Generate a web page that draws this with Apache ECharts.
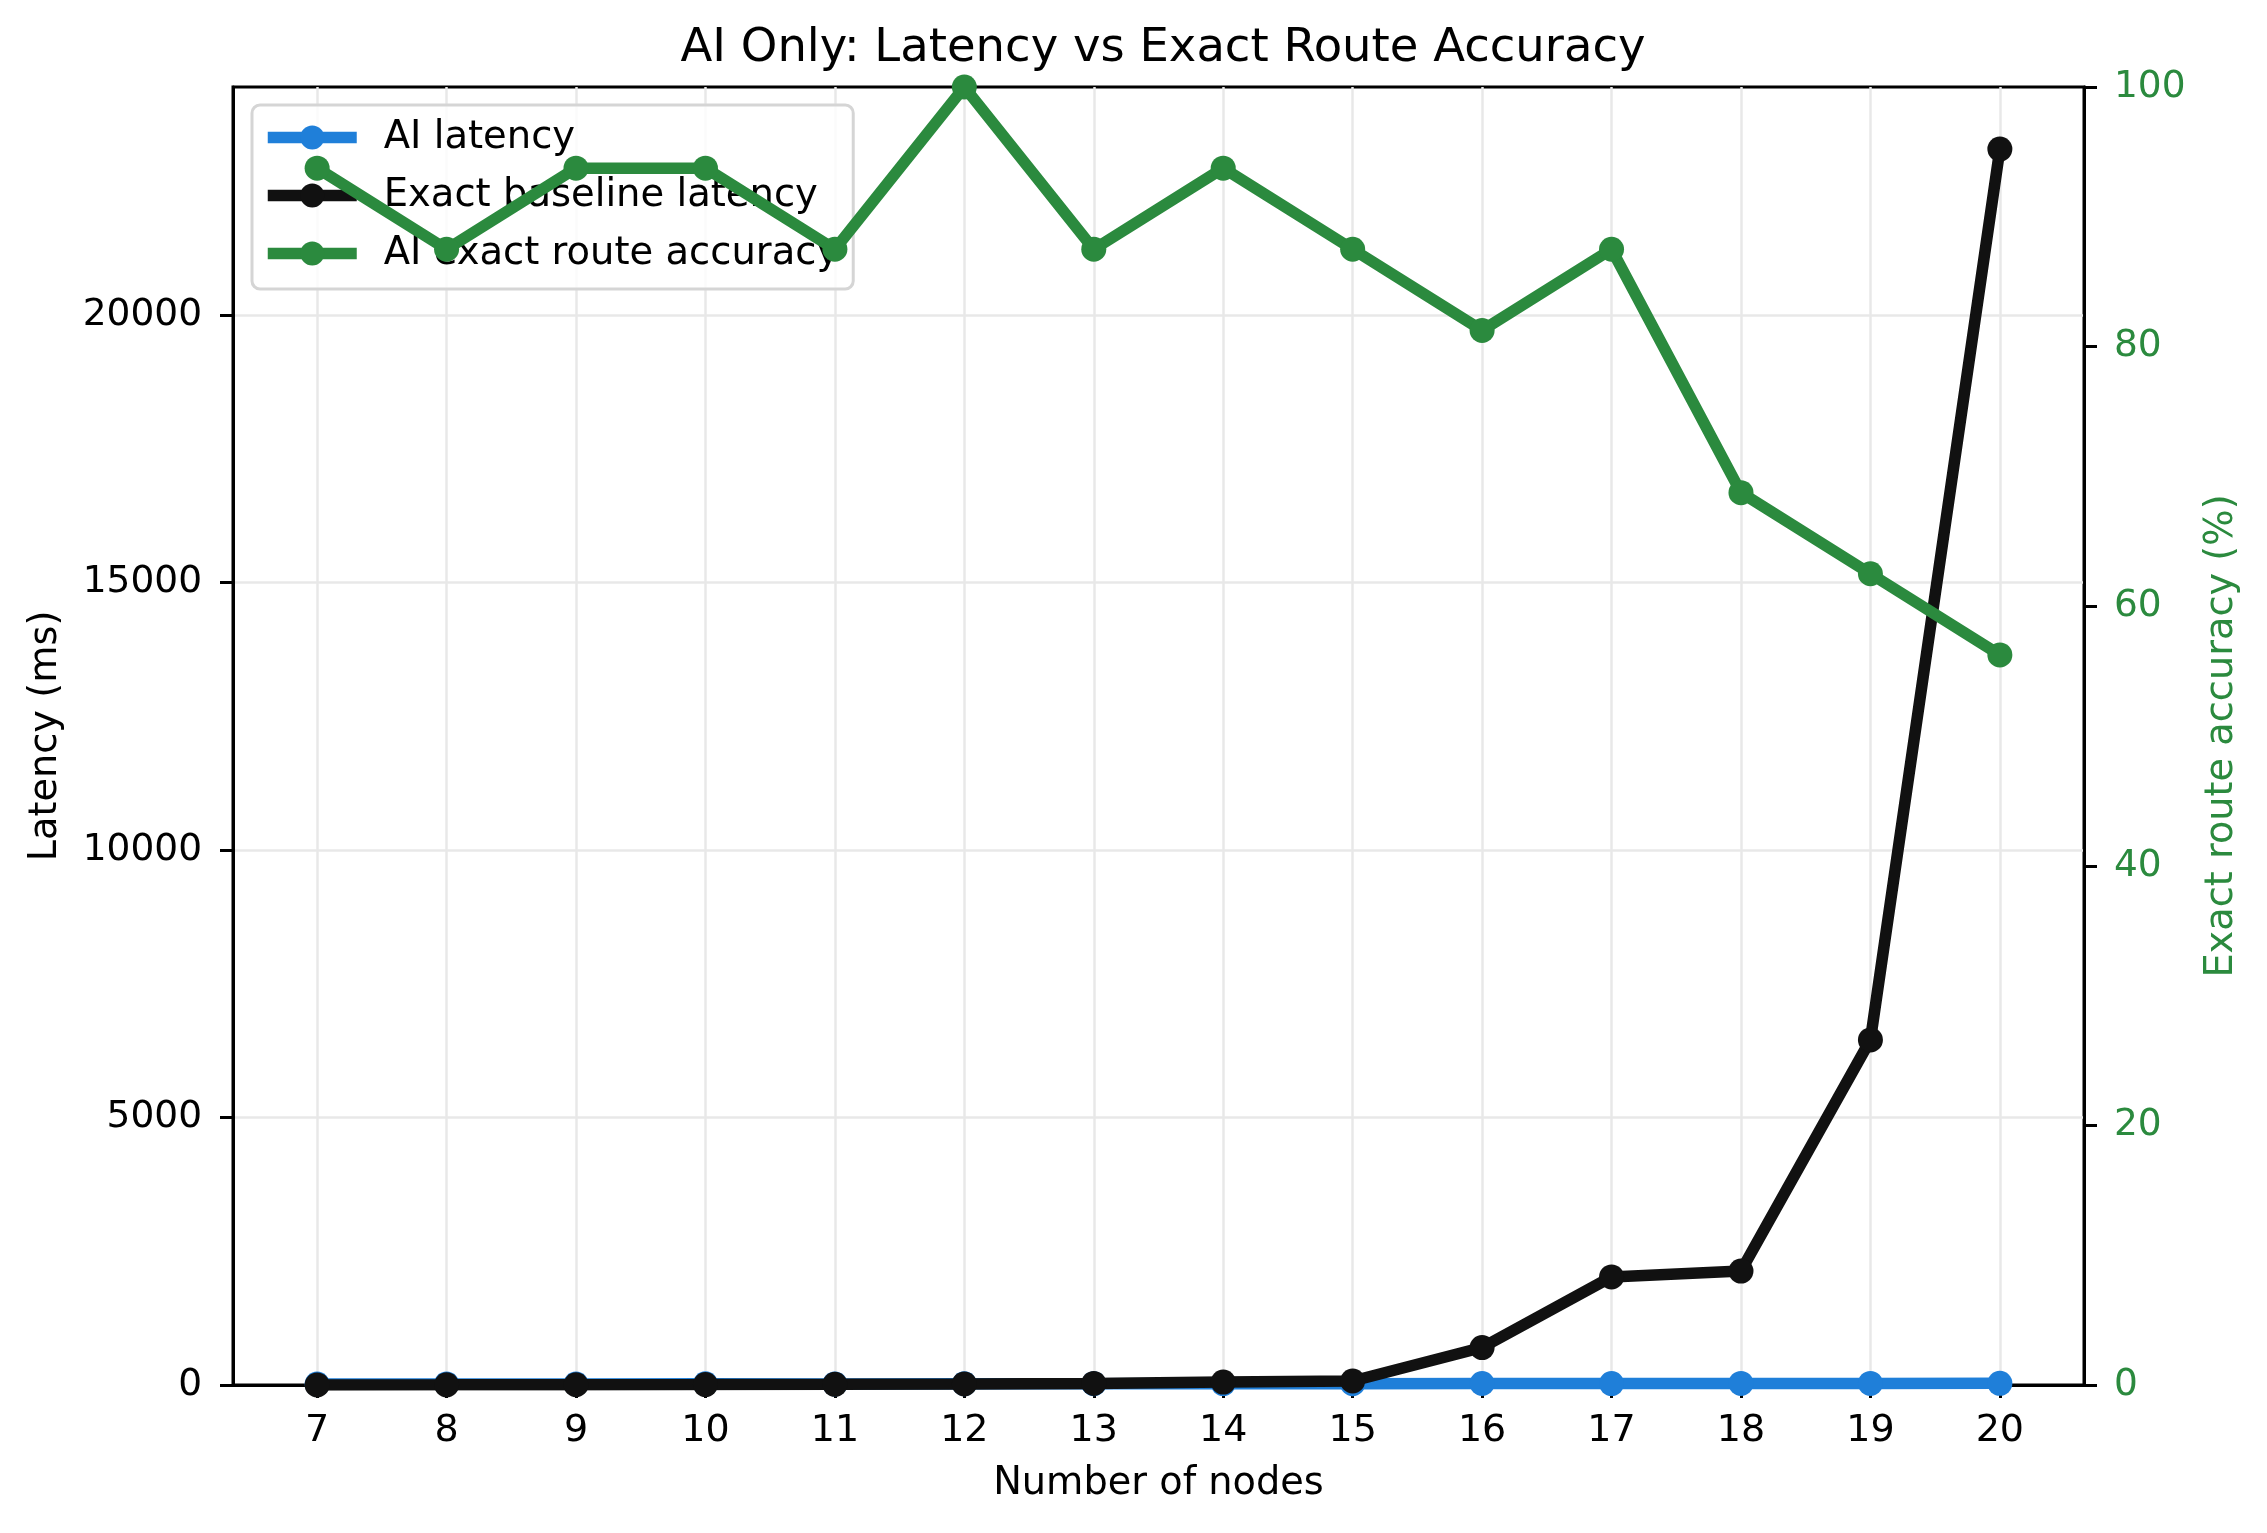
<!DOCTYPE html>
<html>
<head>
<meta charset="utf-8">
<script src="https://cdn.jsdelivr.net/npm/echarts@6/dist/echarts.min.js"></script>
<style>
html,body{margin:0;padding:0;background:#fff;}
#chart{width:2267px;height:1533px;}
</style>
</head>
<body>
<div id="chart"></div>
<script>
const nodes = [7, 8, 9, 10, 11, 12, 13, 14, 15, 16, 17, 18, 19, 20];
const aiLatency = [18, 20, 19, 22, 21, 24, 23, 26, 25, 28, 27, 30, 29, 31];
const exactLatency = [2, 3, 5, 8, 12, 20, 30, 55, 75, 700, 2020, 2130, 6450, 23100];
const accuracy = [93.75, 87.5, 93.75, 93.75, 87.5, 100, 87.5, 93.75, 87.5, 81.25, 87.5, 68.75, 62.5, 56.25];
const latencyTicks = [0, 5000, 10000, 15000, 20000];

const FONT = 'DejaVu Sans';
const GREEN = '#2b8a3e';
const LW = 11.5;
const MS = 25;
const pair = (ys) => nodes.map((x, i) => [x, ys[i]]);

const chart = echarts.init(document.getElementById('chart'), null, {renderer: 'canvas'});
chart.setOption({
  backgroundColor: '#ffffff',
  animation: false,
  textStyle: {fontFamily: FONT},
  title: {
    text: 'AI Only: Latency vs Exact Route Accuracy',
    left: 1158, top: 20, textAlign: 'center',
    textStyle: {fontFamily: FONT, fontSize: 46.5, fontWeight: 'normal', color: '#000'}
  },
  grid: {
    left: 233, right: 183, top: 87, bottom: 148,
    show: true, borderColor: '#000', borderWidth: 3, backgroundColor: 'transparent'
  },
  legend: {
    orient: 'vertical', left: 252, top: 105,
    padding: [13, 14, 16, 10],
    itemWidth: 89, itemHeight: 30, itemGap: 19,
    backgroundColor: 'rgba(255,255,255,0.8)',
    borderColor: '#d5d5d5', borderWidth: 3, borderRadius: 8,
    textStyle: {fontFamily: FONT, fontSize: 38.5, color: '#000', padding: [0, 0, 0, 22]},
    lineStyle: {width: LW},
    z: 4,
    data: ['AI latency', 'Exact baseline latency', 'AI exact route accuracy']
  },
  xAxis: {
    type: 'value', min: 6.35, max: 20.65,
    name: 'Number of nodes', nameLocation: 'middle', nameGap: 80,
    nameTextStyle: {fontFamily: FONT, fontSize: 38.3, color: '#000'},
    axisLine: {show: true, lineStyle: {color: '#000', width: 3}},
    axisTick: {show: true, length: 13, lineStyle: {color: '#000', width: 3}, customValues: nodes},
    axisLabel: {fontFamily: FONT, fontSize: 38, color: '#000', margin: 27, customValues: nodes},
    splitLine: {show: true, lineStyle: {color: '#e8e8e8', width: 2.5}}
  },
  yAxis: [
    {
      type: 'value', min: 0, max: 24260, position: 'left',
      name: 'Latency (ms)', nameLocation: 'middle', nameGap: 168, nameRotate: 90,
      nameTextStyle: {fontFamily: FONT, fontSize: 38.3, color: '#000'},
      axisLine: {show: true, lineStyle: {color: '#000', width: 3}},
      axisTick: {show: true, length: 13, lineStyle: {color: '#000', width: 3}, customValues: latencyTicks},
      axisLabel: {fontFamily: FONT, fontSize: 37.5, color: '#000', margin: 31, customValues: latencyTicks,
                  formatter: (v) => String(v)},
      splitLine: {show: true, lineStyle: {color: '#e8e8e8', width: 2.5}}
    },
    {
      type: 'value', min: 0, max: 100, interval: 20, position: 'right',
      name: 'Exact route accuracy (%)', nameLocation: 'middle', nameGap: 119, nameRotate: 90,
      nameTextStyle: {fontFamily: FONT, fontSize: 38.3, color: GREEN},
      axisLine: {show: true, lineStyle: {color: '#000', width: 3}},
      axisTick: {show: true, length: 13, lineStyle: {color: '#000', width: 3}},
      axisLabel: {fontFamily: FONT, fontSize: 37.5, color: GREEN, margin: 30},
      splitLine: {show: false}
    }
  ],
  series: [
    {
      name: 'AI latency', type: 'line', yAxisIndex: 0, z: 2,
      data: pair(aiLatency),
      symbol: 'circle', symbolSize: MS,
      lineStyle: {color: '#1f7fd9', width: LW},
      itemStyle: {color: '#1f7fd9'}
    },
    {
      name: 'Exact baseline latency', type: 'line', yAxisIndex: 0, z: 3,
      data: pair(exactLatency),
      symbol: 'circle', symbolSize: MS,
      lineStyle: {color: '#111111', width: LW},
      itemStyle: {color: '#111111'}
    },
    {
      name: 'AI exact route accuracy', type: 'line', yAxisIndex: 1, z: 6,
      data: pair(accuracy),
      symbol: 'circle', symbolSize: MS,
      lineStyle: {color: GREEN, width: LW},
      itemStyle: {color: GREEN}
    }
  ]
});
</script>
</body>
</html>
